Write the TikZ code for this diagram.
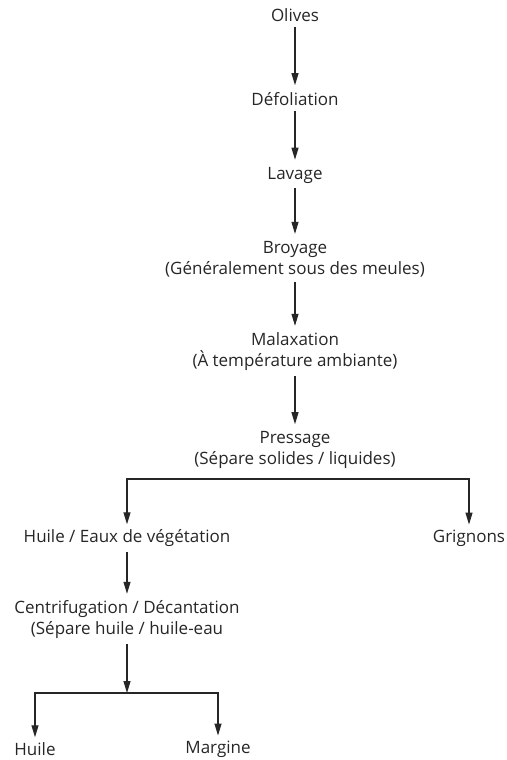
\documentclass[tikz,border=0pt]{standalone}
\usepackage{fontspec}
\setmainfont{Open Sans}
\usepackage{tikz}
\usetikzlibrary{arrows.meta, positioning}

\begin{document}
\begin{tikzpicture}[
    x=1pt, y=1pt,
    stepNode/.style={align=center, text=black!85, font=\fontsize{17}{21}\selectfont, inner sep=0pt},
    flowArrow/.style={-{Triangle[length=12pt, width=7pt]}, black!85, line width=1.1pt, shorten >=7pt, shorten <=5pt},
    forkArrow/.style={-{Triangle[length=12pt, width=7pt]}, black!85, line width=1.1pt, shorten >=5pt}
]
    % Page frame
    \useasboundingbox (0,0) rectangle (506,-760);

    % Main chain
    \node[stepNode] (olives)  at (295,-15)  {Olives};
    \node[stepNode] (defol)   at (295,-99)  {Défoliation};
    \node[stepNode] (lavage)  at (295,-175) {Lavage};
    \node[stepNode] (broyage) at (295,-259) {Broyage\\(Généralement sous des meules)};
    \node[stepNode] (malax)   at (295,-352) {Malaxation\\(À température ambiante)};
    \node[stepNode] (press)   at (295,-450) {Pressage\\(Sépare solides / liquides)};

    % Products of pressing
    \node[stepNode] (huileEaux) at (127,-538) {Huile / Eaux de végétation};
    \node[stepNode] (grignons)  at (469,-538) {Grignons};
    \node[stepNode] (centri)    at (127,-620) {Centrifugation / Décantation\\(Sépare huile / huile-eau};

    % Final products
    \node[stepNode] (huile)   at (35,-749)  {Huile};
    \node[stepNode] (margine) at (218,-749) {Margine};

    % Forks
    \coordinate (forkA) at (295,-479);
    \coordinate (forkB) at (127,-693);

    % Arrows
    \draw[flowArrow] (olives) -- (defol);
    \draw[flowArrow] (defol) -- (lavage);
    \draw[flowArrow] (lavage) -- (broyage);
    \draw[flowArrow] (broyage) -- (malax);
    \draw[flowArrow] (malax) -- (press);

    \draw[forkArrow] (forkA) -| (huileEaux);
    \draw[forkArrow] (forkA) -| (grignons);
    \draw[flowArrow] (huileEaux) -- (centri);

    \draw[flowArrow, shorten >=0pt] (centri) -- (forkB);
    \draw[forkArrow] (forkB) -| (huile);
    \draw[forkArrow] (forkB) -| (margine);
\end{tikzpicture}
\end{document}
